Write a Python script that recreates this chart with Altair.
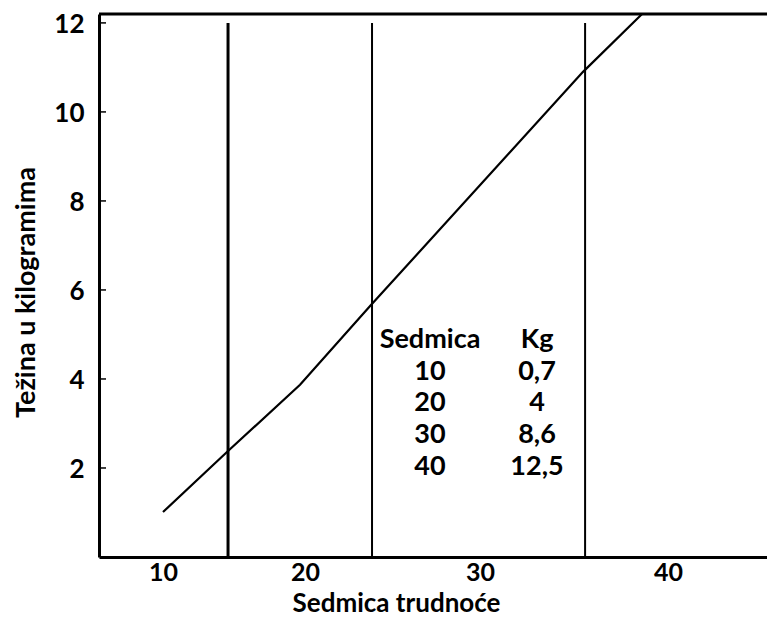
import altair as alt
import pandas as pd

# Curve (week, kg)
curve_week = [10.0, 14.58, 19.65, 23.77, 35.48, 38.62]
curve_kg = [1.01, 2.38, 3.87, 5.66, 10.9, 12.2]

# Vertical lines
vline_week = [14.58, 23.83, 35.59]
vline_width = [3.0, 2.0, 2.0]
vline_top = 12.0

# Y ticks
y_ticks = [2, 4, 6, 8, 10, 12]
x_ticks = [10, 20, 30, 40]

# Inset table
tab_week = ["Sedmica", "10", "20", "30", "40"]
tab_kg = ["Kg", "0,7", "4", "8,6", "12,5"]

W, H = 668, 543
FONT = "Lato"

xscale = alt.Scale(domain=[5.5, 10, 20, 30, 40, 45.3],
                   range=[0, 64, 206, 381, 569, 668], nice=False, zero=False)
yscale = alt.Scale(domain=[0, 12.2], nice=False, zero=False)

curve = pd.DataFrame({"week": curve_week, "kg": curve_kg})
vlines = pd.DataFrame({"week": vline_week, "w": vline_width,
                       "y0": [0] * 3, "y1": [vline_top] * 3})
yt = pd.DataFrame({"v": y_ticks})
tab = pd.DataFrame({"a": tab_week, "b": tab_kg, "row": list(range(len(tab_week)))})

x_axis = alt.Axis(values=x_ticks, title="Sedmica trudnoće", grid=False,
                  tickSize=0, labelPadding=3, labelFont=FONT, labelFontSize=25,
                  labelFontWeight="bold", labelColor="black",
                  domainColor="black", domainWidth=3,
                  titleFont=FONT, titleFontSize=26, titleFontWeight="bold",
                  titleColor="black", titleX=297, titleY=54,
                  titleBaseline="alphabetic", titleAnchor="start", titleAlign="center")
y_axis = alt.Axis(values=y_ticks, title="Težina u kilogramima", grid=False,
                  tickSize=0, labelPadding=15, labelOffset=2, labelFont=FONT,
                  labelFontSize=26, labelFontWeight="bold", labelColor="black",
                  domainColor="black", domainWidth=3,
                  titleFont=FONT, titleFontSize=27, titleFontWeight="bold",
                  titleColor="black", titleX=-73, titleY=278, titleAngle=-90,
                  titleBaseline="middle", titleAlign="center")

line = alt.Chart(curve).mark_line(color="black", strokeWidth=2.2).encode(
    x=alt.X("week:Q", scale=xscale, axis=x_axis),
    y=alt.Y("kg:Q", scale=yscale, axis=y_axis),
    order="week:Q",
)

rules = alt.Chart(vlines).mark_rule(color="black").encode(
    x="week:Q",
    y="y0:Q",
    y2="y1:Q",
    strokeWidth=alt.StrokeWidth("w:Q", scale=None),
)

ticks = alt.Chart(yt).mark_rule(color="black", strokeWidth=1.5).encode(
    y="v:Q",
    x=alt.value(0),
    x2=alt.value(7),
)

top = alt.Chart(pd.DataFrame({"k": [0]})).mark_rule(color="black", strokeWidth=3).encode(
    y=alt.value(0),
    x=alt.value(0),
    x2=alt.value(W),
)

txt_a = alt.Chart(tab).transform_calculate(
    yp="326 + datum.row * 31.7"
).mark_text(font=FONT, fontSize=27, fontWeight="bold", color="black",
            align="center", baseline="middle").encode(
    y=alt.Y("yp:Q", scale=None),
    x=alt.value(331),
    text="a:N",
)
txt_b = alt.Chart(tab).transform_calculate(
    yp="326 + datum.row * 31.7"
).mark_text(font=FONT, fontSize=27, fontWeight="bold", color="black",
            align="center", baseline="middle").encode(
    y=alt.Y("yp:Q", scale=None),
    x=alt.value(438),
    text="b:N",
)

chart = alt.layer(line, rules, ticks, top, txt_a, txt_b).properties(
    width=W, height=H,
    autosize=alt.AutoSizeParams(type="none"),
    padding={"left": 91, "top": 6, "right": 0, "bottom": 59},
).configure_view(stroke=None).configure(background="white")

chart.save("out.html", embed_options={"renderer": "svg", "actions": False})
